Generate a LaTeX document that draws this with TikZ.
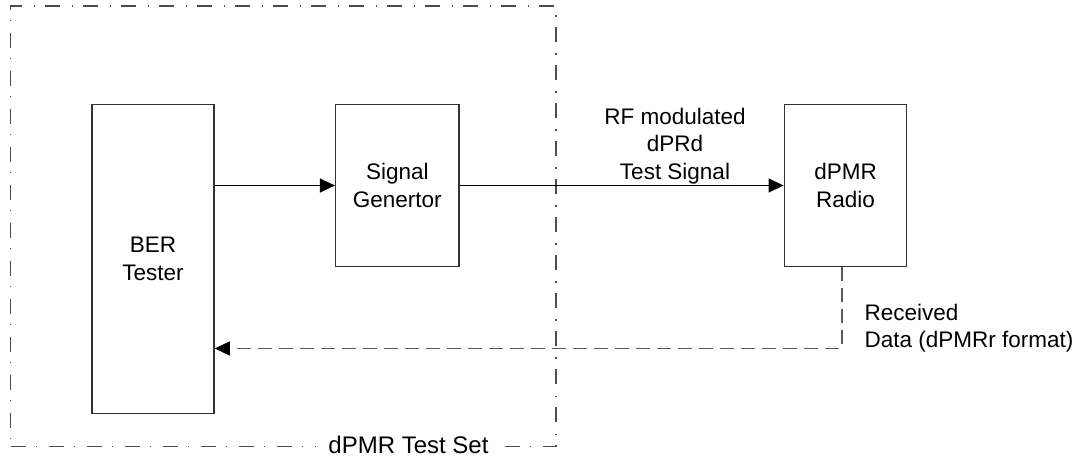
\documentclass[tikz,border=0pt]{standalone}
\usepackage{fontspec}
\setmainfont{Liberation Sans}
\usetikzlibrary{arrows.meta,calc}
\begin{document}
\begin{tikzpicture}[x=1pt,y=-1pt,
  blk/.style={draw=black!80,line width=1.5pt,inner sep=0pt,font=\fontsize{22.5}{27.5}\selectfont,align=center},
  lbl/.style={inner sep=0pt,font=\fontsize{22.5}{27.5}\selectfont},
  tip/.style={-{Triangle[length=15pt,width=14pt,color=black]}},
  conn/.style={draw=black,line width=1.3pt,tip},
  fb/.style={draw=black!65,line width=1.4pt,dash pattern=on 14pt off 7pt,tip},
  grp/.style={draw=black!70,line width=1.2pt,dash pattern=on 15pt off 10pt on 1.5pt off 11.5pt,inner sep=0pt}]
\useasboundingbox (0,0) rectangle (1080,457);
\fill[white] (0,0) rectangle (1080,457);
% group frame
\node[grp,minimum width=545.3pt,minimum height=440.7pt] (set) at (283.35,226.35) {};
\node[lbl,font=\fontsize{24}{28}\selectfont,fill=white,inner xsep=12pt,inner ysep=1pt,anchor=base] (setlbl) at (408.5,453) {dPMR Test Set};
% blocks
\node[blk,minimum width=122pt,minimum height=309pt] (ber) at (153,258.8) {BER\\Tester};
\node[blk,minimum width=123.3pt,minimum height=162.4pt] (sig) at (397.3,185.5) {Signal\\Genertor};
\node[blk,minimum width=122.4pt,minimum height=162.4pt] (radio) at (845.5,185.5) {dPMR\\Radio};
% labels
\node[lbl,align=center] (rflbl) at (675,146) {RF modulated\\dPRd\\Test Signal};
\node[lbl,align=left,anchor=north west] (rxlbl) at (864.3,303.6) {Received\\Data (dPMRr format)};
% connectors
\coordinate (fbrow) at (0,348.5);
\draw[conn] (ber.east |- sig.west) -- (sig.west);
\draw[conn] (sig.east) -- (radio.west);
\draw[fb] ([xshift=-3.5pt]radio.south) |- (ber.east |- fbrow);
\end{tikzpicture}
\end{document}
